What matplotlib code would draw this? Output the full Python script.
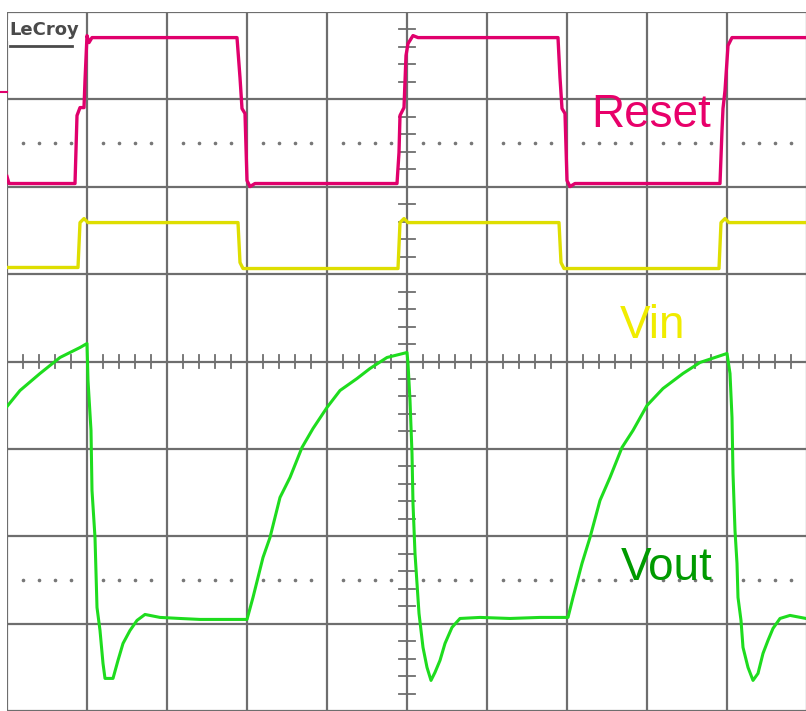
import numpy as np
import matplotlib.pyplot as plt

# scope screen in divisions: time 0..10, level -4..4
reset_t = [0, 0.025, 0.85, 0.875, 0.9125, 0.9625, 0.975, 1.0, 1.025, 1.0625,
           2.875, 2.9125, 2.9375, 2.975, 3.0, 3.0375, 3.1,
           4.875, 4.9, 4.9125, 4.9625, 4.9875, 5.0125, 5.075, 5.1375,
           6.8875, 6.9125, 6.9375, 6.975, 7.0, 7.0375, 7.1,
           8.9125, 8.9375, 8.95, 8.975, 9.0125, 9.0625, 9.9875]
reset_v = [2.117, 2.037, 2.037, 2.815, 2.906, 2.906, 3.215, 3.730, 3.650, 3.707,
           3.707, 3.249, 2.895, 2.838, 2.071, 2.002, 2.037,
           2.037, 2.391, 2.815, 2.906, 3.501, 3.638, 3.730, 3.707,
           3.707, 3.249, 2.895, 2.838, 2.071, 2.002, 2.037,
           2.037, 2.643, 2.895, 3.101, 3.616, 3.707, 3.707]

vin_t = [0, 0.8875, 0.9125, 0.9625, 1.0125, 2.8875, 2.9125, 2.95,
         4.8875, 4.9125, 4.9625, 5.0125, 6.9, 6.925, 6.9625,
         8.9, 8.925, 8.975, 9.025, 9.9875]
vin_v = [1.076, 1.076, 1.590, 1.636, 1.590, 1.590, 1.133, 1.064,
         1.064, 1.590, 1.636, 1.590, 1.590, 1.133, 1.064,
         1.064, 1.590, 1.636, 1.590, 1.590]

vout_t = [0, 0.1625, 0.4125, 0.6625, 0.9125, 1.0, 1.0125, 1.05, 1.0625, 1.1,
          1.125, 1.1625, 1.2, 1.225, 1.325, 1.3875, 1.45, 1.5375, 1.625, 1.725,
          1.9125, 2.1625, 2.4125, 2.7875, 3.0, 3.075, 3.2, 3.2875, 3.4125, 3.5375,
          3.6875, 3.825, 4.0, 4.1625, 4.375, 4.5375, 4.75, 5.0, 5.0125, 5.0375,
          5.0625, 5.075, 5.1, 5.15, 5.2, 5.25, 5.3, 5.35, 5.4125, 5.475,
          5.5625, 5.6625, 5.9125, 6.2875, 6.6625, 7.0125, 7.075, 7.1875, 7.2875, 7.4125,
          7.5375, 7.6875, 7.825, 8.0, 8.2, 8.45, 8.6625, 9.0, 9.0375, 9.0625,
          9.075, 9.1, 9.125, 9.1375, 9.175, 9.2, 9.2625, 9.325, 9.3875, 9.45,
          9.5125, 9.575, 9.6625, 9.7875, 9.9875]
vout_v = [-0.515, -0.332, -0.137, 0.046, 0.160, 0.206, -0.217, -0.789, -1.476, -2.014,
          -2.815, -3.078, -3.455, -3.627, -3.627, -3.421, -3.227, -3.078, -2.963, -2.895,
          -2.929, -2.941, -2.952, -2.952, -2.952, -2.700, -2.243, -2.014, -1.556, -1.327,
          -0.984, -0.767, -0.526, -0.332, -0.195, -0.080, 0.046, 0.103, -0.023, -0.446,
          -1.053, -1.625, -2.197, -2.883, -3.272, -3.501, -3.650, -3.558, -3.421, -3.227,
          -3.043, -2.941, -2.929, -2.941, -2.929, -2.929, -2.700, -2.311, -2.014, -1.590,
          -1.327, -0.984, -0.789, -0.503, -0.309, -0.137, -0.011, 0.092, -0.137, -0.641,
          -1.281, -1.934, -2.311, -2.700, -2.963, -3.272, -3.501, -3.650, -3.570, -3.341,
          -3.192, -3.055, -2.941, -2.906, -2.941]

grid_c = '#6e6e6e'

fig = plt.figure(figsize=(8.06, 7.11), dpi=100)
ax = fig.add_axes([7 / 806, 0, 800 / 806, 699 / 711])
ax.set_xlim(0, 10)
ax.set_ylim(-4, 4)
ax.axis('off')

# graticule
for x in range(0, 11):
    ax.axvline(x, color=grid_c, lw=1.6, zorder=1)
for y in range(-4, 5):
    ax.axhline(y, color=grid_c, lw=1.6, zorder=1)

# minor ticks on the centre axes
for x in np.arange(0, 10.01, 0.2):
    if abs(x - round(x)) > 0.01:
        ax.plot([x, x], [-0.08, 0.08], color=grid_c, lw=1.3, zorder=1)
for y in np.arange(-4, 4.01, 0.2):
    if abs(y - round(y)) > 0.01:
        ax.plot([4.9, 5.1], [y, y], color=grid_c, lw=1.3, zorder=1)

# dotted rows
dx = [x for x in np.arange(0, 10.01, 0.2) if abs(x - round(x)) > 0.01]
for y in (2.5, -2.5):
    ax.plot(dx, [y] * len(dx), ls='none', marker='o', ms=1.6, color='#777777', zorder=1)

ax.plot(reset_t, reset_v, color='#e0006c', lw=2.4, zorder=3)
ax.plot(vin_t, vin_v, color='#dede00', lw=2.4, zorder=3)
ax.plot(vout_t, vout_v, color='#1edc1e', lw=2.2, zorder=3)

# channel level marker on the left edge
ax.plot([-0.09, 0], [3.09, 3.09], color='#e0006c', lw=1.5, clip_on=False)

ax.text(8.05, 2.82, 'Reset', color='#e8006a', fontsize=33, family='Liberation Sans',
        ha='center', va='center', zorder=4)
ax.text(8.075, 0.41, 'Vin', color='#f0ec00', fontsize=33, family='Liberation Sans',
        ha='center', va='center', zorder=4)
ax.text(8.24, -2.36, 'Vout', color='#009a00', fontsize=33, family='Liberation Sans',
        ha='center', va='center', zorder=4)

# scope logo
ax.text(0.03, 3.79, 'LeCroy', color='#4a4a4a', fontsize=13, fontweight='bold',
        ha='left', va='center', zorder=2,
        bbox=dict(facecolor='white', edgecolor='none', pad=1))
ax.plot([0.04, 0.81], [3.61, 3.61], color='#4a4a4a', lw=2.0, zorder=2)

fig.savefig('out.png', dpi=100, facecolor='white')
